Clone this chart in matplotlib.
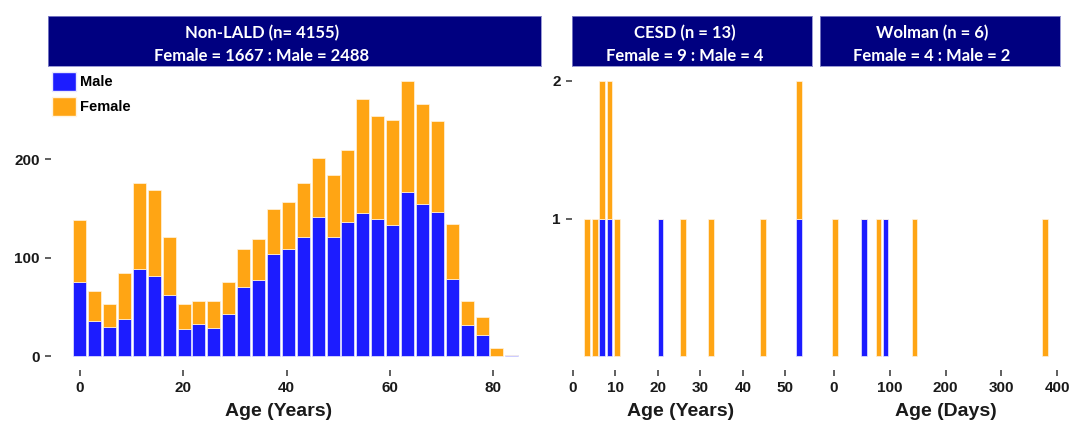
import matplotlib
matplotlib.use('Agg')
import matplotlib.pyplot as plt
from matplotlib.patches import Patch
import numpy as np

# Non-LALD age histogram (bin centres in years, counts per bin)
lald_age = [0.0, 2.9, 5.8, 8.6, 11.5, 14.4, 17.3, 20.2, 23.0, 25.9,
            28.8, 31.7, 34.6, 37.4, 40.3, 43.2, 46.1, 49.0, 51.8, 54.7,
            57.6, 60.5, 63.4, 66.2, 69.1, 72.0, 74.9, 77.8, 80.6, 83.5]
lald_male = [75, 36, 30, 38, 89, 82, 62, 28, 33, 29,
             43, 70, 77, 104, 109, 121, 142, 121, 136, 146,
             139, 133, 167, 155, 147, 79, 32, 22, 0, 1]
lald_female = [63, 30, 23, 47, 87, 87, 59, 25, 23, 27,
               32, 39, 42, 46, 48, 55, 60, 63, 74, 115,
               105, 107, 113, 101, 92, 55, 24, 18, 8, 0]

# CESD (years)
cesd_age = [3.4, 5.1, 6.8, 8.6, 10.3, 20.6, 25.8, 32.6, 44.7, 53.3]
cesd_male = [0, 0, 1, 1, 0, 1, 0, 0, 0, 1]
cesd_female = [1, 1, 1, 1, 1, 0, 1, 1, 1, 1]

# Wolman (days)
wolman_age = [1.5, 53.5, 79.5, 92.5, 144.5, 378.5]
wolman_male = [0, 1, 0, 1, 0, 0]
wolman_female = [1, 0, 1, 0, 1, 1]

titles = [("Non-LALD (n= 4155)", "Female = 1667 : Male = 2488"),
          ("CESD (n = 13)", "Female = 9 : Male = 4"),
          ("Wolman (n = 6)", "Female = 4 : Male = 2")]

BLUE = '#1c1cff'
ORANGE = '#ffa514'
NAVY = '#000080'
W, H = 1073, 421


def box(x0, x1, y0, y1):
    # pixel box (top-left origin) -> figure fraction
    return [x0 / W, (H - y1) / H, (x1 - x0) / W, (y1 - y0) / H]


def stacked(ax, x, male, female, width):
    ax.bar(x, male, width=width, color=BLUE, edgecolor='#e8e8ff', linewidth=0.5)
    ax.bar(x, female, width=width, bottom=male, color=ORANGE,
           edgecolor='#fff4e0', linewidth=0.5)


def style(ax):
    for s in ax.spines.values():
        s.set_visible(False)
    ax.tick_params(axis='both', direction='out', length=4, width=1.2,
                   color='#444444', labelsize=11, labelcolor='#1a1a1a', pad=4)
    for lab in ax.get_xticklabels() + ax.get_yticklabels():
        lab.set_fontweight('bold')


def main():
    plt.rcParams['font.family'] = ['Liberation Sans', 'DejaVu Sans']
    fig = plt.figure(figsize=(W / 100, H / 100), dpi=100)

    ax1 = fig.add_axes(box(51, 541, 67, 370))
    ax2 = fig.add_axes(box(571.7, 811.7, 67, 370))
    ax3 = fig.add_axes(box(820, 1060, 67, 370))

    stacked(ax1, lald_age, lald_male, lald_female, 2.5)
    stacked(ax2, cesd_age, cesd_male, cesd_female, 1.4)
    stacked(ax3, wolman_age, wolman_male, wolman_female, 10)

    ax1.set_xlim(-5.6, 89.2)
    ax1.set_ylim(-14, 294)
    ax1.set_xticks([0, 20, 40, 60, 80])
    ax1.set_yticks([0, 100, 200])

    ax2.set_xlim(-0.3, 56.2)
    ax2.set_ylim(-0.1, 2.1)
    ax2.set_xticks([0, 10, 20, 30, 40, 50])
    ax2.set_yticks([1, 2])

    ax3.set_xlim(-25, 405)
    ax3.set_ylim(-0.1, 2.1)
    ax3.set_xticks([0, 100, 200, 300, 400])
    ax3.set_yticks([])

    for ax in (ax1, ax2, ax3):
        style(ax)

    labels = [(ax1, 'Age (Years)', 0.4635), (ax2, 'Age (Years)', 0.455),
              (ax3, 'Age (Days)', 0.524)]
    for ax, txt, xf in labels:
        ax.set_xlabel(txt, fontsize=14, fontweight='bold', color='#1a1a1a')
        ax.xaxis.set_label_coords(xf, -0.138)
        ax.xaxis.label.set_va('center')

    # facet strips; text centre sits a little left of the strip centre
    strips = [(48, 541, 262), (571.7, 811.7, 685), (820, 1060, 932)]
    for (x0, x1, xc), (t1, t2) in zip(strips, titles):
        sax = fig.add_axes(box(x0, x1, 15.7, 65.7))
        sax.set_facecolor(NAVY)
        sax.set_xticks([])
        sax.set_yticks([])
        for s in sax.spines.values():
            s.set_color('#8888cc')
            s.set_linewidth(0.6)
        xf = (xc - x0) / (x1 - x0)
        sax.text(xf, 0.55, t1, ha='center', va='baseline', color='white',
                 fontsize=12, fontweight='bold', family='Lato',
                 transform=sax.transAxes)
        sax.text(xf, 0.1, t2, ha='center', va='baseline', color='white',
                 fontsize=12, fontweight='bold', family='Lato',
                 transform=sax.transAxes)

    handles = [Patch(facecolor=BLUE, edgecolor='#e8e8ff', label='Male'),
               Patch(facecolor=ORANGE, edgecolor='#fff4e0', label='Female')]
    ax1.legend(handles=handles, loc='upper left',
               bbox_to_anchor=(0.002, 0.985), frameon=False,
               borderaxespad=0, borderpad=0, handlelength=1.65,
               handleheight=1.65, handletextpad=0.25, labelspacing=0.4,
               prop={'weight': 'bold', 'size': 10.5})

    fig.savefig('out.png', dpi=100)


if __name__ == '__main__':
    main()
